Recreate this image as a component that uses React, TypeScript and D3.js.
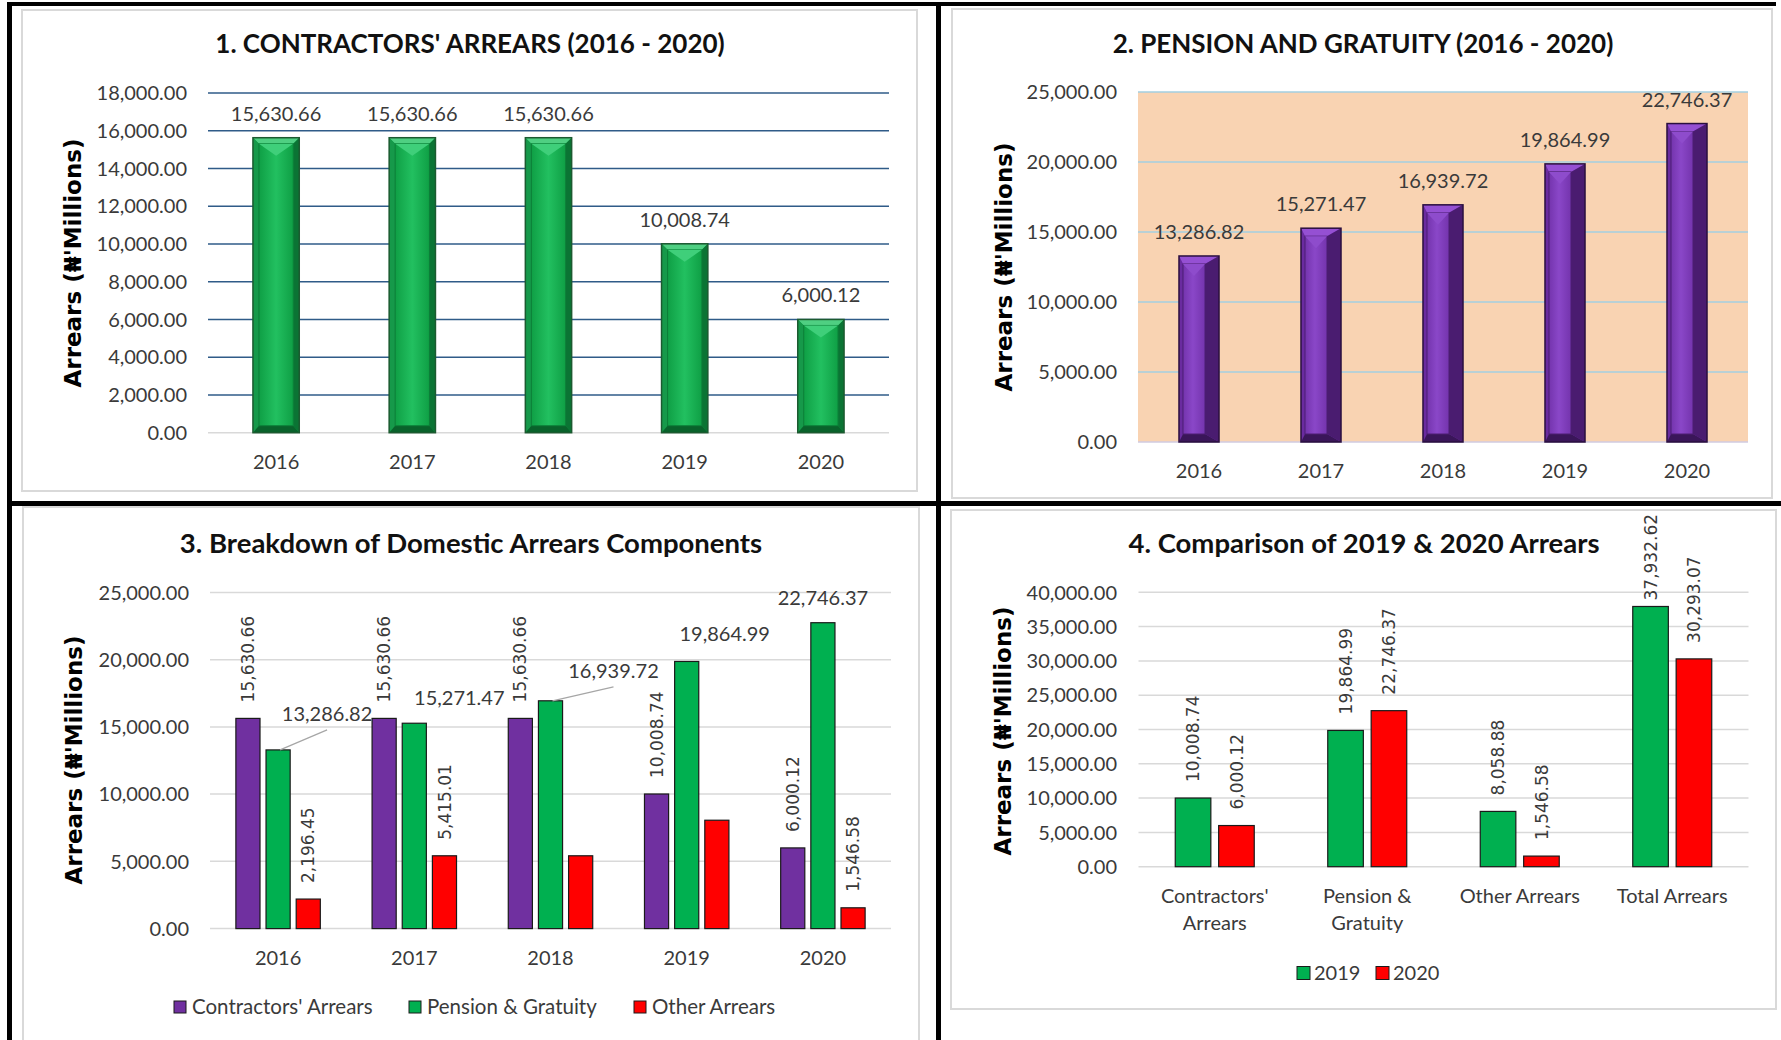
import React from 'react';
import * as d3 from 'd3';

// ---------------- DATA ----------------
const years = ['2016', '2017', '2018', '2019', '2020'];
const contractorsArrears = [15630.66, 15630.66, 15630.66, 10008.74, 6000.12];
const pensionGratuity = [13286.82, 15271.47, 16939.72, 19864.99, 22746.37];
const otherArrears = [2196.45, 5415.01, 5415.01, 8058.88, 1546.58];
const otherArrearsLabelShown = [true, true, false, false, true];

const compCategories = ["Contractors' Arrears", 'Pension & Gratuity', 'Other Arrears', 'Total Arrears'];
const compTickLines = [["Contractors'", 'Arrears'], ['Pension &', 'Gratuity'], ['Other Arrears'], ['Total Arrears']];
const comp2019 = [10008.74, 19864.99, 8058.88, 37932.62];
const comp2020 = [6000.12, 22746.37, 1546.58, 30293.07];

const ticks1 = [0, 2000, 4000, 6000, 8000, 10000, 12000, 14000, 16000, 18000];
const ticks2 = [0, 5000, 10000, 15000, 20000, 25000];
const ticks3 = [0, 5000, 10000, 15000, 20000, 25000];
const ticks4 = [0, 5000, 10000, 15000, 20000, 25000, 30000, 35000, 40000];

const titles = [
  "1. CONTRACTORS' ARREARS (2016 - 2020)",
  '2. PENSION AND GRATUITY (2016 - 2020)',
  '3. Breakdown of Domestic Arrears Components',
  '4. Comparison of 2019 & 2020 Arrears',
];
const yTitle = "Arrears (\u20A6'Millions)";
const legend3 = ["Contractors' Arrears", 'Pension & Gratuity', 'Other Arrears'];
const legend4 = ['2019', '2020'];

// manual nudges of the horizontal Pension labels in panel 3 (style, not data)
const pensionLabelNudge = [
  { dx: 49, dy: -12, leader: true },
  { dx: 45, dy: -1, leader: false },
  { dx: 63, dy: -6, leader: true },
  { dx: 38, dy: -3, leader: false },
  { dx: 0, dy: -1, leader: false },
];

// ---------------- STYLE ----------------
const CAL = "Lato, 'Open Sans', 'Liberation Sans', sans-serif";
const VER = "'DejaVu Sans', Verdana, sans-serif";
const TXT = '#3a3a3a';
const fmt = d3.format(',.2f');
const PURPLE = '#7030a0';
const GREEN = '#00b050';
const RED = '#ff0000';

const dejaWidth = (s: string, fs: number) =>
  s.split('').reduce((a, ch) => a + (/[0-9]/.test(ch) ? 0.636 : 0.318), 0) * fs;

function YAxis({ y, ticks, x0, x1, labelX, gridColor, zeroColor, gw = 1.5 }: any) {
  return (
    <g>
      {ticks.map((t: number) => (
        <g key={t}>
          <line x1={x0} x2={x1} y1={y(t)} y2={y(t)} stroke={t === 0 ? zeroColor : gridColor} strokeWidth={gw} />
          <text x={labelX} y={y(t)} dy="0.36em" textAnchor="end" fontFamily={CAL} fontSize={20} fill={TXT}>
            {fmt(t)}
          </text>
        </g>
      ))}
    </g>
  );
}

function YTitle({ cx, cy }: any) {
  return (
    <text
      transform={`translate(${cx},${cy}) rotate(-90)`}
      textAnchor="middle"
      dy="0.35em"
      fontFamily={VER}
      fontWeight="bold"
      fontSize={23}
      fill="#000"
    >
      {yTitle}
    </text>
  );
}

function Title({ cx, y, text, fs = 26 }: any) {
  return (
    <text x={cx} y={y} textAnchor="middle" fontFamily={CAL} fontWeight="bold" fontSize={fs} fill="#111">
      {text}
    </text>
  );
}

function BevelBar({ x, y, w, h, pal, b, faceId }: any) {
  const x2 = x + w;
  const y2 = y + h;
  const T = Math.min(b.t, h / 2);
  const B = Math.min(b.b, h / 2);
  const ix = x + b.l;
  const ix2 = x2 - b.r;
  const iy = y + T;
  const iy2 = y2 - B;
  const mx = (ix + ix2) / 2;
  return (
    <g>
      <rect x={x} y={y} width={w} height={h} fill={pal.face} />
      <polygon points={`${x},${y} ${x2},${y} ${ix2},${iy} ${ix},${iy}`} fill={pal.top} />
      <polygon points={`${x},${y} ${ix},${iy} ${ix},${iy2} ${x},${y2}`} fill={pal.left} />
      <polygon points={`${x2},${y} ${x2},${y2} ${ix2},${iy2} ${ix2},${iy}`} fill={pal.right} />
      <polygon points={`${x},${y2} ${ix},${iy2} ${ix2},${iy2} ${x2},${y2}`} fill={pal.bottom} />
      <rect x={ix} y={iy} width={Math.max(0, ix2 - ix)} height={Math.max(0, iy2 - iy)} fill={`url(#${faceId})`} stroke={pal.inner} strokeWidth={1} />
      <polygon points={`${ix},${iy} ${ix2},${iy} ${mx},${iy + Math.min(12, (iy2 - iy) / 2)}`} fill={pal.chevron} />
      <rect x={x} y={y} width={w} height={h} fill="none" stroke={pal.outline} strokeWidth={1.5} />
    </g>
  );
}

const greenPal = {
  face: '#0fa647',
  top: '#4fcf82',
  left: '#16994a',
  right: '#0b7434',
  bottom: '#09622b',
  inner: '#0c7e38',
  outline: '#1c5a30',
  chevron: '#3fcf7a',
};
const purplePal = {
  face: '#7a37b5',
  top: '#9550d3',
  left: '#6a2ba0',
  right: '#4a1c70',
  bottom: '#3a1659',
  inner: '#4d1f73',
  outline: '#2a0f3f',
  chevron: '#8e4ccc',
};

// ---------------- PANELS ----------------
function Panel1() {
  const x = d3.scaleBand().domain(years).range([208, 889]).paddingInner(0.66).paddingOuter(0.33);
  const y = d3.scaleLinear().domain([0, 18000]).range([432.7, 93]);
  return (
    <g>
      <Title cx={470} y={53} text={titles[0]} />
      <YAxis y={y} ticks={ticks1} x0={208} x1={889} labelX={187} gridColor="#2f5b88" zeroColor="#d9d9d9" />
      <YTitle cx={73} cy={263} />
      {years.map((yr, i) => {
        const v = contractorsArrears[i];
        const bx = x(yr)!;
        const bw = x.bandwidth();
        const cx = bx + bw / 2;
        return (
          <g key={yr}>
            <BevelBar x={bx} y={y(v)} w={bw} h={y(0) - y(v)} pal={greenPal} b={{ l: 6, r: 6, t: 6, b: 7 }} faceId="gFace" />
            <text x={cx} y={y(v) - 17} textAnchor="middle" fontFamily={CAL} fontSize={20} fill={TXT}>
              {fmt(v)}
            </text>
            <text x={cx} y={y(0) + 36} textAnchor="middle" fontFamily={CAL} fontSize={20} fill={TXT}>
              {yr}
            </text>
          </g>
        );
      })}
    </g>
  );
}

function Panel2() {
  const x = d3.scaleBand().domain(years).range([1138, 1748]).paddingInner(0.672).paddingOuter(0.336);
  const y = d3.scaleLinear().domain([0, 25000]).range([442, 92]);
  return (
    <g>
      <rect x={1138} y={92} width={610} height={350} fill="#f9d3b2" />
      <Title cx={1363} y={53} text={titles[1]} />
      <YAxis y={y} ticks={ticks2} x0={1138} x1={1748} labelX={1117} gridColor="#a3cfe0" zeroColor="#d0cbe0" />
      <YTitle cx={1004} cy={267} />
      {years.map((yr, i) => {
        const v = pensionGratuity[i];
        const bx = x(yr)!;
        const bw = x.bandwidth();
        const cx = bx + bw / 2;
        return (
          <g key={yr}>
            <BevelBar x={bx} y={y(v)} w={bw} h={y(0) - y(v)} pal={purplePal} b={{ l: 4, r: 14, t: 8, b: 8 }} faceId="pFace" />
            <text x={cx} y={y(v) - 17} textAnchor="middle" fontFamily={CAL} fontSize={20} fill={TXT}>
              {fmt(v)}
            </text>
            <text x={cx} y={y(0) + 36} textAnchor="middle" fontFamily={CAL} fontSize={20} fill={TXT}>
              {yr}
            </text>
          </g>
        );
      })}
    </g>
  );
}

function RotLabel({ cx, y0, v }: any) {
  return (
    <text transform={`translate(${cx},${y0}) rotate(-90)`} dy="0.36em" fontFamily={VER} fontSize={17} fill={TXT}>
      {fmt(v)}
    </text>
  );
}

function Panel3() {
  const x0 = d3.scaleBand().domain(years).range([210, 891]).paddingInner(0.38).paddingOuter(0.19);
  const series = [
    { key: 'c', values: contractorsArrears, color: PURPLE },
    { key: 'p', values: pensionGratuity, color: GREEN },
    { key: 'o', values: otherArrears, color: RED },
  ];
  const x1 = d3.scaleBand().domain(series.map((s) => s.key)).range([0, x0.bandwidth()]).paddingInner(0.2);
  const y = d3.scaleLinear().domain([0, 25000]).range([928.6, 592.4]);
  const legendSq = [174, 409, 634];
  return (
    <g>
      <Title cx={471} y={553} text={titles[2]} fs={27.5} />
      <YAxis y={y} ticks={ticks3} x0={210} x1={891} labelX={189} gridColor="#d9d9d9" zeroColor="#d9d9d9" />
      <YTitle cx={74} cy={760} />
      {years.map((yr, i) => (
        <g key={yr}>
          {series.map((s) => {
            const v = s.values[i];
            const bx = x0(yr)! + x1(s.key)!;
            const bw = x1.bandwidth();
            return <rect key={s.key} x={bx} y={y(v)} width={bw} height={y(0) - y(v)} fill={s.color} stroke="#1a1a1a" strokeWidth={1.2} />;
          })}
          <text x={x0(yr)! + x0.bandwidth() / 2} y={y(0) + 36} textAnchor="middle" fontFamily={CAL} fontSize={20} fill={TXT}>
            {yr}
          </text>
        </g>
      ))}
      {years.map((yr, i) => {
        const v = contractorsArrears[i];
        const cx = x0(yr)! + x1('c')! + x1.bandwidth() / 2;
        return <RotLabel key={yr} cx={cx} y0={y(v) - 16} v={v} />;
      })}
      {years.map((yr, i) => {
        if (!otherArrearsLabelShown[i]) return null;
        const v = otherArrears[i];
        const cx = x0(yr)! + x1('o')! + x1.bandwidth() / 2;
        return <RotLabel key={yr} cx={cx} y0={y(v) - 16} v={v} />;
      })}
      {years.map((yr, i) => {
        const v = pensionGratuity[i];
        const cx = x0(yr)! + x1('p')! + x1.bandwidth() / 2;
        const n = pensionLabelNudge[i];
        const lx = cx + n.dx;
        const ly = y(v) - 17 + n.dy;
        return (
          <g key={yr}>
            {n.leader && <line x1={lx} y1={ly + 9} x2={cx + 2} y2={y(v)} stroke="#a6a6a6" strokeWidth={1.2} />}
            <text x={lx} y={ly} textAnchor="middle" fontFamily={CAL} fontSize={20} fill={TXT}>
              {fmt(v)}
            </text>
          </g>
        );
      })}
      {legend3.map((name, i) => (
        <g key={name}>
          <rect x={legendSq[i]} y={1001} width={12} height={12} fill={series[i].color} stroke="#1a1a1a" strokeWidth={1} />
          <text x={legendSq[i] + 18} y={1014} fontFamily={CAL} fontSize={20.5} fill={TXT}>
            {name}
          </text>
        </g>
      ))}
    </g>
  );
}

function Panel4() {
  const x0 = d3.scaleBand().domain(compCategories).range([1138.5, 1748.5]).paddingInner(0.482).paddingOuter(0.241);
  const x1 = d3.scaleBand().domain(legend4).range([0, x0.bandwidth()]).paddingInner(0.18);
  const y = d3.scaleLinear().domain([0, 40000]).range([866.7, 592.3]);
  const series = [
    { key: '2019', values: comp2019, color: GREEN },
    { key: '2020', values: comp2020, color: RED },
  ];
  const panelTop = 514;
  const legendSq = [1297, 1376];
  return (
    <g>
      <Title cx={1364} y={553} text={titles[3]} fs={27.5} />
      <YAxis y={y} ticks={ticks4} x0={1138.5} x1={1748.5} labelX={1117} gridColor="#d9d9d9" zeroColor="#d9d9d9" />
      <YTitle cx={1003} cy={731} />
      {compCategories.map((cat, i) => (
        <g key={cat}>
          {series.map((s) => {
            const v = s.values[i];
            const bx = x0(cat)! + x1(s.key)!;
            const bw = x1.bandwidth();
            const cx = bx + bw / 2;
            const lbl = fmt(v);
            const y0 = Math.max(y(v) - 16, panelTop + dejaWidth(lbl, 17));
            return (
              <g key={s.key}>
                <rect x={bx} y={y(v)} width={bw} height={y(0) - y(v)} fill={s.color} stroke="#1a1a1a" strokeWidth={1.2} />
                <RotLabel cx={cx} y0={y0} v={v} />
              </g>
            );
          })}
          {compTickLines[i].map((ln, j) => (
            <text key={j} x={x0(cat)! + x0.bandwidth() / 2} y={y(0) + 36 + j * 27} textAnchor="middle" fontFamily={CAL} fontSize={20} fill={TXT}>
              {ln}
            </text>
          ))}
        </g>
      ))}
      {legend4.map((name, i) => (
        <g key={name}>
          <rect x={legendSq[i]} y={966.5} width={13} height={13} fill={series[i].color} stroke="#1a1a1a" strokeWidth={1} />
          <text x={legendSq[i] + 17} y={980} fontFamily={CAL} fontSize={20} fill={TXT}>
            {name}
          </text>
        </g>
      ))}
    </g>
  );
}

export default function App() {
  return (
    <svg
      width={1781}
      height={1040}
      viewBox="0 0 1781 1040"
      style={{ position: 'absolute', left: 0, top: 0, background: '#fff' }}
    >
      <defs>
        <linearGradient id="gFace" x1="0" x2="1" y1="0" y2="0">
          <stop offset="0" stopColor="#0f9f45" />
          <stop offset="0.5" stopColor="#22c060" />
          <stop offset="1" stopColor="#0f9f45" />
        </linearGradient>
        <linearGradient id="pFace" x1="0" x2="1" y1="0" y2="0">
          <stop offset="0" stopColor="#7434ad" />
          <stop offset="0.45" stopColor="#8a47c8" />
          <stop offset="1" stopColor="#7434ad" />
        </linearGradient>
      </defs>
      <rect x={0} y={0} width={1781} height={1040} fill="#fff" />
      <rect x={22} y={10} width={895} height={481} fill="#fff" stroke="#d9d9d9" strokeWidth={2} />
      <rect x={952} y={9} width={820} height={489} fill="#fff" stroke="#d9d9d9" strokeWidth={2} />
      <rect x={23} y={507} width={896} height={540} fill="#fff" stroke="#d9d9d9" strokeWidth={2} />
      <rect x={951} y={510} width={825} height={499} fill="#fff" stroke="#d9d9d9" strokeWidth={2} />

      <Panel1 />
      <Panel2 />
      <Panel3 />
      <Panel4 />

      <rect x={7} y={2} width={5} height={1038} fill="#000" />
      <rect x={7} y={2} width={1769} height={4} fill="#000" />
      <rect x={936} y={2} width={5} height={1038} fill="#000" />
      <rect x={7} y={501} width={1774} height={5} fill="#000" />
    </svg>
  );
}
